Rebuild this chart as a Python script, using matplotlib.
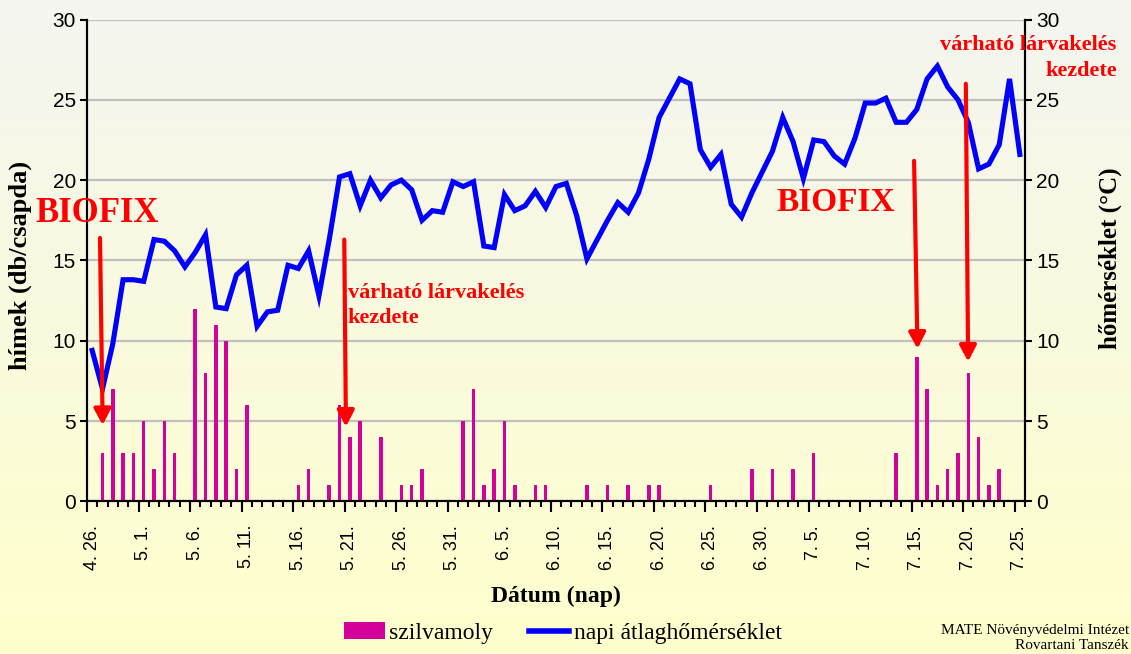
import numpy as np
import matplotlib
matplotlib.use("Agg")
import matplotlib.pyplot as plt
from matplotlib.patches import Patch
from matplotlib.lines import Line2D

# --- data: daily trap catches and mean temperature, 4.26 .. 7.25 ---
males = [0, 3, 7, 3, 3, 5, 2, 5, 3, 0,
         12, 8, 11, 10, 2, 6, 0, 0, 0, 0,
         1, 2, 0, 1, 6, 4, 5, 0, 4, 0,
         1, 1, 2, 0, 0, 0, 5, 7, 1, 2,
         5, 1, 0, 1, 1, 0, 0, 0, 1, 0,
         1, 0, 1, 0, 1, 1, 0, 0, 0, 0,
         1, 0, 0, 0, 2, 0, 2, 0, 2, 0,
         3, 0, 0, 0, 0, 0, 0, 0, 3, 0,
         9, 7, 1, 2, 3, 8, 4, 1, 2, 0,
         0]

temperature = [9.4, 7.0, 9.8, 13.8, 13.8, 13.7, 16.3, 16.2, 15.6, 14.6,
               15.5, 16.6, 12.1, 12.0, 14.1, 14.7, 10.9, 11.8, 11.9, 14.7,
               14.5, 15.6, 12.8, 16.3, 20.2, 20.4, 18.4, 20.0, 18.9, 19.7,
               20.0, 19.4, 17.5, 18.1, 18.0, 19.9, 19.6, 19.9, 15.9, 15.8,
               19.1, 18.1, 18.4, 19.3, 18.3, 19.6, 19.8, 17.8, 15.1, 16.3,
               17.5, 18.6, 18.0, 19.2, 21.3, 23.9, 25.1, 26.3, 26.0, 21.9,
               20.8, 21.6, 18.5, 17.7, 19.2, 20.5, 21.8, 23.9, 22.4, 20.1,
               22.5, 22.4, 21.5, 21.0, 22.6, 24.8, 24.8, 25.1, 23.6, 23.6,
               24.4, 26.3, 27.1, 25.8, 25.0, 23.6, 20.7, 21.0, 22.2, 26.3,
               21.6]

tick_labels = ["4. 26.", "5. 1.", "5. 6.", "5. 11.", "5. 16.", "5. 21.",
               "5. 26.", "5. 31.", "6. 5.", "6. 10.", "6. 15.", "6. 20.",
               "6. 25.", "6. 30.", "7. 5.", "7. 10.", "7. 15.", "7. 20.",
               "7. 25."]

# arrows: (start x, start y, tip x, tip y) in day index / axis units
arrows = [(0.76, 16.4, 1.02, 4.75),
          (24.46, 16.3, 24.62, 4.65),
          (79.74, 21.2, 80.07, 9.5),
          (84.76, 26.0, 84.98, 8.7)]

SERIF = "Liberation Serif"
SANS = "Liberation Sans"
RED = "#FF0000"
BAR_COLOR = "#D4009A"
LINE_COLOR = "#0000FF"

days = np.arange(len(males))

fig = plt.figure(figsize=(11.31, 6.54), dpi=100)

# gradient background over the whole figure
bg = fig.add_axes([0, 0, 1, 1], zorder=-10)
grad = np.linspace(0, 1, 256).reshape(-1, 1)
top = np.array([0xF4, 0xF5, 0xF0]) / 255
bottom = np.array([0xFF, 0xFF, 0xCC]) / 255
img = top + (bottom - top) * grad[..., None]
bg.imshow(img.reshape(256, 1, 3), aspect="auto", extent=[0, 1, 0, 1])
bg.axis("off")

ax = fig.add_axes([87 / 1131, 1 - 501.4 / 654, 938 / 1131, 481.9 / 654])
ax.set_facecolor("none")
ax.bar(days, males, width=0.35, color=BAR_COLOR, zorder=3)
ax.set_xlim(-0.5, len(days) - 0.5)
ax.set_ylim(0, 30)
ax.set_yticks(range(0, 31, 5))
ax.yaxis.grid(True, color="#BFBFBF", lw=1.6, zorder=0)
ax.set_axisbelow(True)

ax2 = ax.twinx()
ax2.plot(days, temperature, color=LINE_COLOR, lw=3.7, solid_joinstyle="miter", zorder=4)
ax2.set_ylim(0, 30)
ax2.set_yticks(range(0, 31, 5))

for a in (ax, ax2):
    a.spines["top"].set_visible(False)
    for s in ("left", "right", "bottom"):
        a.spines[s].set_linewidth(1.5)
    a.tick_params(axis="y", length=5, width=1.5, labelsize=15, pad=3)
    for lab in a.get_yticklabels():
        lab.set_fontfamily(SANS)

# category labels every 5 days, tick marks on day boundaries
ax.set_xticks(days[::5])
ax.set_xticklabels(tick_labels, rotation=90, fontfamily=SANS, fontsize=13)
ax.tick_params(axis="x", which="major", length=0, pad=17)
ax.set_xticks(np.arange(-0.5, len(days), 1), minor=True)
ax.tick_params(axis="x", which="minor", length=4, width=1.5)
sec = ax.secondary_xaxis("bottom")
sec.set_xticks(np.arange(-0.5, len(days), 5))
sec.tick_params(length=8, width=1.5, labelbottom=False)
sec.spines["bottom"].set_visible(False)

# arrows and annotations
for x0, y0, x1, y1 in arrows:
    ax2.annotate("", xy=(x1, y1), xytext=(x0, y0),
                 arrowprops=dict(arrowstyle="-|>,head_width=0.5,head_length=0.95",
                                 color=RED, lw=3, shrinkA=0, shrinkB=0),
                 zorder=6)

ax2.text(-5.5, 17.9, "BIOFIX", color=RED, fontfamily=SERIF, fontweight="bold",
         fontsize=25, ha="left", va="center", clip_on=False, zorder=7)
ax2.text(72.1, 18.6, "BIOFIX", color=RED, fontfamily=SERIF, fontweight="bold",
         fontsize=24, ha="center", va="center", zorder=7)
ax2.text(24.8, 12.2, "várható lárvakelés\nkezdete", color=RED, fontfamily=SERIF,
         fontweight="bold", fontsize=16, ha="left", va="center", linespacing=1.35,
         zorder=7)
ax2.text(99.4, 27.6, "várható lárvakelés\nkezdete", color=RED, fontfamily=SERIF,
         fontweight="bold", fontsize=16, ha="right", va="center", linespacing=1.35,
         multialignment="right", clip_on=False, zorder=7)

# axis titles
fig.text(20 / 1131, 1 - 265 / 654, "hímek (db/csapda)", rotation=90, ha="center",
         va="center", fontfamily=SERIF, fontweight="bold", fontsize=19)
fig.text(1110 / 1131, 1 - 258 / 654, "hőmérséklet (°C)", rotation=90, ha="center",
         va="center", fontfamily=SERIF, fontweight="bold", fontsize=18)
fig.text(556 / 1131, 1 - 596 / 654, "Dátum (nap)", ha="center", va="center",
         fontfamily=SERIF, fontweight="bold", fontsize=17)

handles = [Patch(facecolor=BAR_COLOR, edgecolor="none"),
           Line2D([], [], color=LINE_COLOR, lw=4)]
fig.legend(handles, ["szilvamoly", "napi átlaghőmérséklet"], ncol=2,
           loc="center", bbox_to_anchor=(563 / 1131, 1 - 633 / 654), frameon=False,
           prop={"family": SERIF, "size": 17}, handlelength=1.7, handletextpad=0.2,
           columnspacing=1.5)

fig.text(1129 / 1131, 1 - 638 / 654, "MATE Növényvédelmi Intézet\nRovartani Tanszék",
         ha="right", va="center", multialignment="right", fontfamily=SERIF,
         fontsize=11, linespacing=1.15)

fig.savefig("out.png", dpi=100)
